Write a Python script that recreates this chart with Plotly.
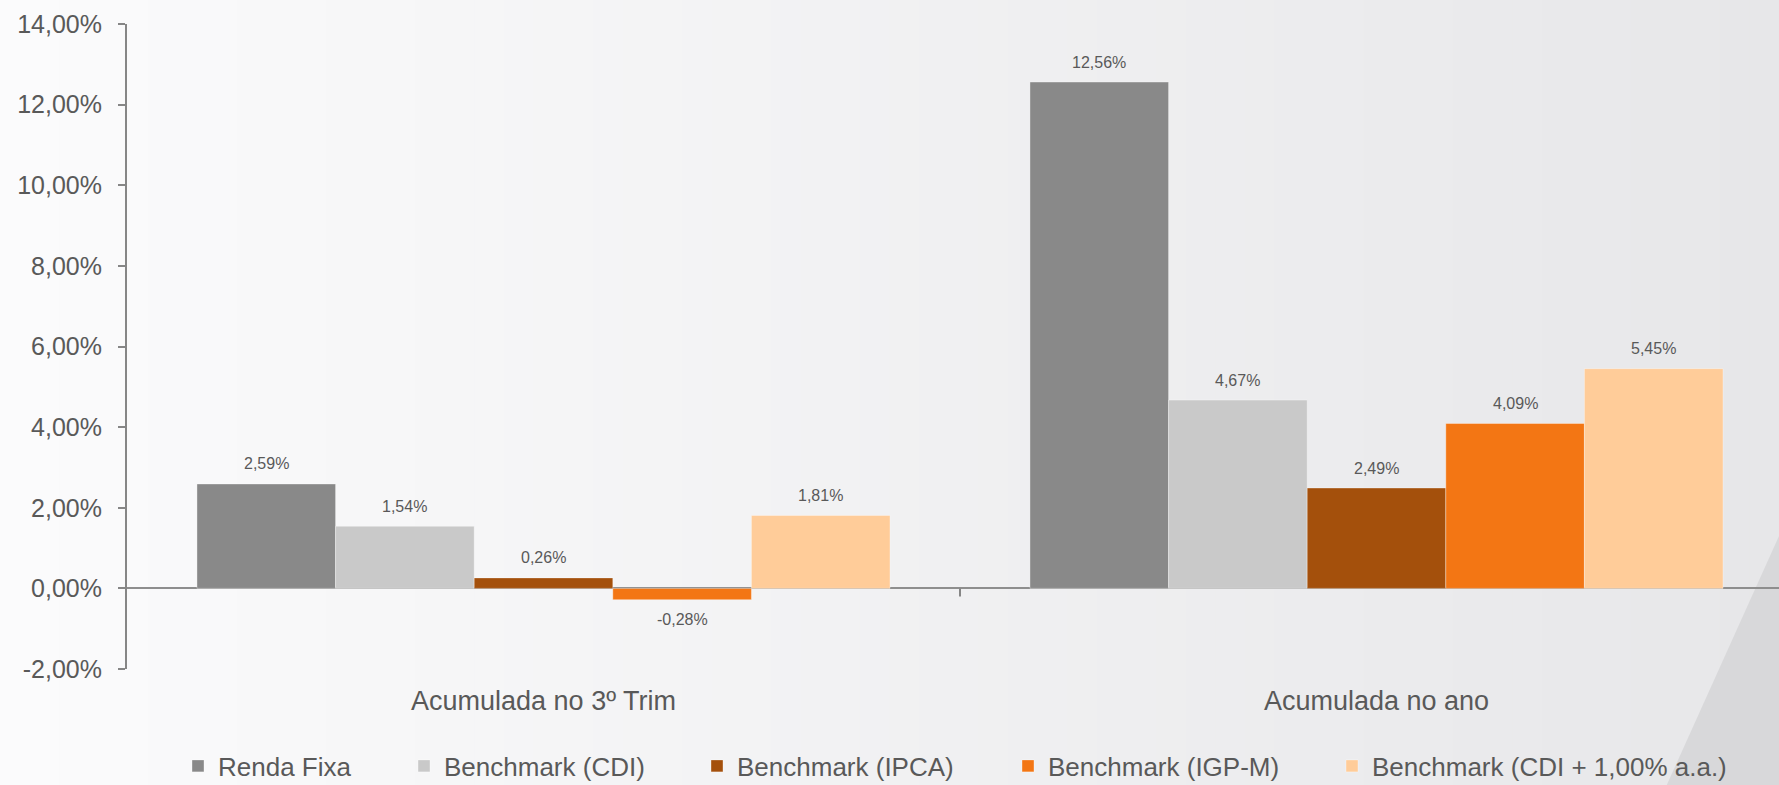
import plotly.graph_objects as go

# ---- data ----
categories = ["Acumulada no 3º Trim", "Acumulada no ano"]
series_names = [
    "Renda Fixa",
    "Benchmark (CDI)",
    "Benchmark (IPCA)",
    "Benchmark (IGP-M)",
    "Benchmark (CDI + 1,00% a.a.)",
]
renda_fixa = [2.59, 12.56]
bench_cdi = [1.54, 4.67]
bench_ipca = [0.26, 2.49]
bench_igpm = [-0.28, 4.09]
bench_cdi_plus = [1.81, 5.45]
series_values = [renda_fixa, bench_cdi, bench_ipca, bench_igpm, bench_cdi_plus]
y_tick_values = [-2, 0, 2, 4, 6, 8, 10, 12, 14]


def pct(v):
    return f"{v:.2f}".replace(".", ",") + "%"


y_tick_text = [pct(v) for v in y_tick_values]

# ---- style ----
colors = ["#898989", "#C9C9C9", "#A4500C", "#F37614", "#FFCC99"]
FONT = "Arial, 'Liberation Sans', sans-serif"
TXT = "#595959"
W, H = 1779, 785
ML, MR, MT, MB = 127, 0, 24, 116
PW = W - ML - MR
PH = H - MT - MB
BARGAP = 0.168
X_RANGE = [-0.5, 1.4832]

fig = go.Figure()

legend_px = [178, 404, 697, 1008, 1332]
for i, (name, vals) in enumerate(zip(series_names, series_values)):
    lname = "legend" if i == 0 else f"legend{i+1}"
    fig.add_trace(go.Bar(
        x=categories, y=vals, name=name,
        marker=dict(color=colors[i], line=dict(color="rgba(255,255,255,0.35)", width=1)),
        legend=lname,
        hoverinfo="skip",
    ))

# data labels
unit_px = PW / (X_RANGE[1] - X_RANGE[0])
bar_px = unit_px * (1 - BARGAP) / len(series_names)
annotations = []
for i, vals in enumerate(series_values):
    for c, v in zip(categories, vals):
        annotations.append(dict(
            x=c, y=v, xref="x", yref="y", text=pct(v), showarrow=False,
            xshift=(i - (len(series_names) - 1) / 2) * bar_px,
            yshift=20 if v >= 0 else -20,
            yanchor="middle", xanchor="center",
            font=dict(family=FONT, size=16, color=TXT),
        ))

# background gradient (decoration)
shapes = []
N = 60
c0 = (251, 251, 252)
c1 = (231, 231, 233)
x_left = -ML / PW
x_right = (W - ML) / PW
y_bot = -MB / PH
y_top = (PH + MT) / PH
for k in range(N):
    t = k / (N - 1)
    col = tuple(round(a + (b - a) * t) for a, b in zip(c0, c1))
    xa = x_left + (x_right - x_left) * k / N
    xb = x_left + (x_right - x_left) * (k + 1) / N + 0.001
    shapes.append(dict(type="rect", xref="paper", yref="paper", x0=xa, x1=xb,
                       y0=y_bot - 0.02, y1=y_top + 0.02, fillcolor=f"rgb{col}",
                       line=dict(width=0), layer="below"))


def px_to_paper(px, py):
    return (px - ML) / PW, (H - MB - py) / PH


pts = [px_to_paper(1660, 800), px_to_paper(1779, 536), px_to_paper(1790, 536),
       px_to_paper(1790, 800)]
path = "M " + " L ".join(f"{x},{y}" for x, y in pts) + " Z"
shapes.append(dict(type="path", xref="paper", yref="paper", path=path,
                   fillcolor="#D8D8DA", line=dict(width=0), layer="below"))

# category divider tick on zero line
shapes.append(dict(type="line", xref="x", yref="y", x0=0.5, x1=0.5,
                   ysizemode="pixel", yanchor=0, y0=0, y1=-8,
                   line=dict(color="#868686", width=2), layer="above"))

legend_layout = {}
for i, px in enumerate(legend_px):
    lname = "legend" if i == 0 else f"legend{i+1}"
    legend_layout[lname] = dict(
        x=(px - ML) / PW, xanchor="left",
        y=(H - MB - 766) / PH, yanchor="middle",
        orientation="h", bgcolor="rgba(0,0,0,0)", borderwidth=0,
        font=dict(family=FONT, size=26, color=TXT),
        itemclick=False, itemdoubleclick=False,
    )

fig.update_layout(
    width=W, height=H,
    margin=dict(l=ML, r=MR, t=MT, b=MB, pad=0, autoexpand=False),
    paper_bgcolor="#F4F4F5",
    plot_bgcolor="rgba(0,0,0,0)",
    barmode="group", bargap=BARGAP, bargroupgap=0,
    separators=",.",
    font=dict(family=FONT, color=TXT),
    showlegend=True,
    annotations=annotations,
    shapes=shapes,
    xaxis=dict(
        type="category", range=X_RANGE, showgrid=False, showline=False,
        zeroline=False, ticks="", ticklabelstandoff=13,
        tickfont=dict(family=FONT, size=27, color=TXT),
    ),
    yaxis=dict(
        range=[-2, 14], tickmode="array", tickvals=y_tick_values, ticktext=y_tick_text,
        showgrid=False, showline=True, linecolor="#868686", linewidth=2,
        ticks="outside", ticklen=7, tickwidth=2, tickcolor="#868686",
        zeroline=True, zerolinecolor="#8E8E8E", zerolinewidth=2,
        ticklabelstandoff=11,
        tickfont=dict(family=FONT, size=25, color=TXT),
    ),
    **legend_layout,
)

fig.write_html(
    "out.html",
    config={"displayModeBar": False},
    post_script="document.body.style.margin='0';document.body.style.overflow='hidden';",
)
